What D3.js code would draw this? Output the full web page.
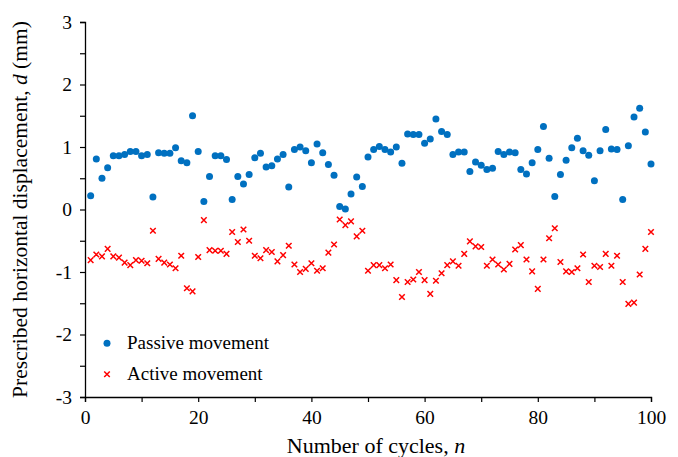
<!DOCTYPE html>
<html>
<head>
<meta charset="utf-8">
<script src="https://cdn.jsdelivr.net/npm/d3@7"></script>
<style>
  body { margin: 0; background: #fff; }
  svg text { font-family: "Liberation Serif", "Times New Roman", serif; fill: #000; }
</style>
</head>
<body>
<div id="chart"></div>
<script>
// Cycle numbers 1..100
const cycles = d3.range(1, 101);

// Passive movement displacement (mm)
const passive = [
    0.22, 0.81, 0.50, 0.67, 0.86, 0.86, 0.88, 0.93, 0.93, 0.86,
    0.88, 0.20, 0.91, 0.90, 0.90, 0.99, 0.78, 0.75, 1.50, 0.93,
    0.13, 0.53, 0.86, 0.86, 0.80, 0.16, 0.53, 0.41, 0.56, 0.83,
    0.90, 0.68, 0.70, 0.81, 0.88, 0.36, 0.96, 1.00, 0.94, 0.75,
    1.05, 0.91, 0.72, 0.55, 0.05, 0.01, 0.25, 0.52, 0.37, 0.84,
    0.96, 1.01, 0.96, 0.92, 1.00, 0.74, 1.21, 1.20, 1.20, 1.06,
    1.13, 1.45, 1.25, 1.20, 0.88, 0.92, 0.92, 0.61, 0.76, 0.71,
    0.64, 0.66, 0.93, 0.88, 0.92, 0.91, 0.64, 0.57, 0.75, 0.96,
    1.33, 0.82, 0.21, 0.56, 0.79, 0.99, 1.14, 0.94, 0.87, 0.46,
    0.94, 1.28, 0.97, 0.96, 0.16, 1.02, 1.48, 1.62, 1.24, 0.73
];

// Active movement displacement (mm)
const active = [
    -0.81, -0.72, -0.75, -0.63, -0.75, -0.77, -0.85, -0.89, -0.81, -0.82,
    -0.86, -0.34, -0.79, -0.85, -0.88, -0.94, -0.74, -1.26, -1.31, -0.76,
    -0.17, -0.65, -0.66, -0.66, -0.71, -0.36, -0.52, -0.32, -0.50, -0.74,
    -0.78, -0.65, -0.68, -0.83, -0.73, -0.58, -0.88, -1.00, -0.95, -0.86,
    -0.98, -0.94, -0.69, -0.56, -0.16, -0.25, -0.19, -0.43, -0.34, -0.98,
    -0.89, -0.89, -0.94, -0.88, -1.13, -1.40, -1.16, -1.12, -1.00, -1.13,
    -1.35, -1.14, -1.02, -0.89, -0.83, -0.90, -0.71, -0.51, -0.59, -0.60,
    -0.90, -0.80, -0.88, -0.96, -0.87, -0.64, -0.57, -0.80, -0.99, -1.27,
    -0.80, -0.46, -0.30, -0.84, -0.99, -1.00, -0.94, -0.72, -1.16, -0.90,
    -0.92, -0.71, -0.90, -0.74, -1.16, -1.51, -1.49, -1.04, -0.63, -0.36
];

// Axis ticks
const xMajorTicks = [0, 20, 40, 60, 80, 100];
const xMinorTicks = [10, 30, 50, 70, 90];
const yTicks = [-3, -2.5, -2, -1.5, -1, -0.5, 0, 0.5, 1, 1.5, 2, 2.5, 3];

const seriesNames = ['Passive movement', 'Active movement'];

const W = 678, H = 457;
const margin = { top: 22, right: 27, bottom: 60, left: 85 };
const width = W - margin.left - margin.right;
const height = H - margin.top - margin.bottom;

const svg = d3.select('#chart')
    .append('svg')
    .attr('width', W)
    .attr('height', H)
    .append('g')
    .attr('transform', `translate(${margin.left},${margin.top})`);

const x = d3.scaleLinear().domain([0, 100]).range([0, width]);
const y = d3.scaleLinear().domain([-3, 3]).range([height, 0]);

// X axis
const xAxis = svg.append('g')
    .attr('transform', `translate(0,${height})`)
    .call(d3.axisBottom(x)
        .tickValues(xMajorTicks)
        .tickSize(5)
        .tickPadding(8)
        .tickFormat(d3.format('d')));
svg.append('g')
    .attr('transform', `translate(0,${height})`)
    .call(d3.axisBottom(x).tickValues(xMinorTicks).tickSize(5).tickFormat(''))
    .select('.domain').remove();

// Y axis
const yAxis = svg.append('g')
    .call(d3.axisLeft(y)
        .tickValues(yTicks)
        .tickSize(5)
        .tickPadding(8)
        .tickFormat(d => Number.isInteger(d) ? String(d) : ''));

[xAxis, yAxis].forEach(g => {
    g.selectAll('.domain').attr('stroke', '#000').attr('stroke-width', 1.3);
    g.selectAll('text').style('font-size', '19.5px').style('font-family', '"Liberation Serif", serif');
});
svg.selectAll('.tick line').attr('stroke', '#000').attr('stroke-width', 1.2);

// Axis labels
svg.append('text')
    .attr('x', width / 2 + 8)
    .attr('y', height + 56)
    .attr('text-anchor', 'middle')
    .style('font-size', '22px')
    .html('Number of cycles, <tspan font-style="italic">n</tspan>');

svg.append('text')
    .attr('transform', 'rotate(-90)')
    .attr('x', -height / 2)
    .attr('y', -58)
    .attr('text-anchor', 'middle')
    .style('font-size', '21.5px')
    .html('Prescribed horizontal displacement, <tspan font-style="italic">d</tspan> (mm)');

// Passive points
svg.append('g')
    .selectAll('circle')
    .data(passive)
    .enter()
    .append('circle')
    .attr('cx', (d, i) => x(cycles[i]))
    .attr('cy', d => y(d))
    .attr('r', 3.5)
    .attr('fill', '#0070C0');

// Active points (x markers)
const cross = d3.symbol().type(d3.symbolX).size(22);
svg.append('g')
    .selectAll('path')
    .data(active)
    .enter()
    .append('path')
    .attr('transform', (d, i) => `translate(${x(cycles[i])},${y(d)})`)
    .attr('d', cross)
    .attr('fill', 'none')
    .attr('stroke', '#FF0000')
    .attr('stroke-width', 1.5);

// Legend
const legend = svg.append('g')
    .attr('transform', `translate(22, ${y(-2.14)})`);

legend.append('circle')
    .attr('cx', 0).attr('cy', 0).attr('r', 3.5)
    .attr('fill', '#0070C0');
legend.append('text')
    .attr('x', 20).attr('y', 6)
    .style('font-size', '19px')
    .text(seriesNames[0]);

legend.append('path')
    .attr('transform', 'translate(0,31)')
    .attr('d', cross)
    .attr('fill', 'none')
    .attr('stroke', '#FF0000')
    .attr('stroke-width', 1.5);
legend.append('text')
    .attr('x', 20).attr('y', 37)
    .style('font-size', '19px')
    .text(seriesNames[1]);
</script>
</body>
</html>
